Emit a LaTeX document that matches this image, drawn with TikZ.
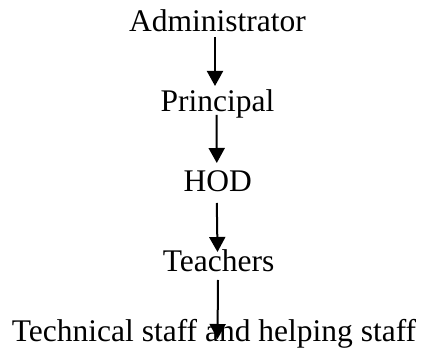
\documentclass[tikz,border=0pt]{standalone}
\usepackage{fontspec}
\setmainfont{Liberation Serif}
\usetikzlibrary{arrows.meta,calc}
\tikzset{
  lbl/.style={anchor=base,inner sep=0pt,font=\fontsize{31.5}{36}\selectfont},
  arr/.style={line width=2pt,-{Triangle[length=15pt,width=16pt]}}
}
\begin{document}
\begin{tikzpicture}[x=1pt,y=1pt]
\useasboundingbox (0,0) rectangle (428,358);
\node[lbl] (adm) at (217.5,326) {Administrator};
\node[lbl] (pri) at (217.5,246) {Principal};
\node[lbl] (hod) at (217.8,166) {HOD};
\node[lbl] (tea) at (218.5,86) {Teachers};
\node[lbl] (tec) at (214,16) {Technical staff and helping staff};
\draw[arr] ($(adm.base)+(-2.5,-5)$) -- ($(pri.base)+(-2.5,26)$);
\draw[arr] ($(pri.base)+(-1,-3)$) -- ($(hod.base)+(-1,29)$);
\draw[arr] ($(hod.base)+(-1,-11)$) -- ($(tea.base)+(-1,20)$);
\draw[arr] ($(tea.base)+(-0.5,-8)$) -- ($(tec.base)+(3.5,3)$);
\end{tikzpicture}
\end{document}
